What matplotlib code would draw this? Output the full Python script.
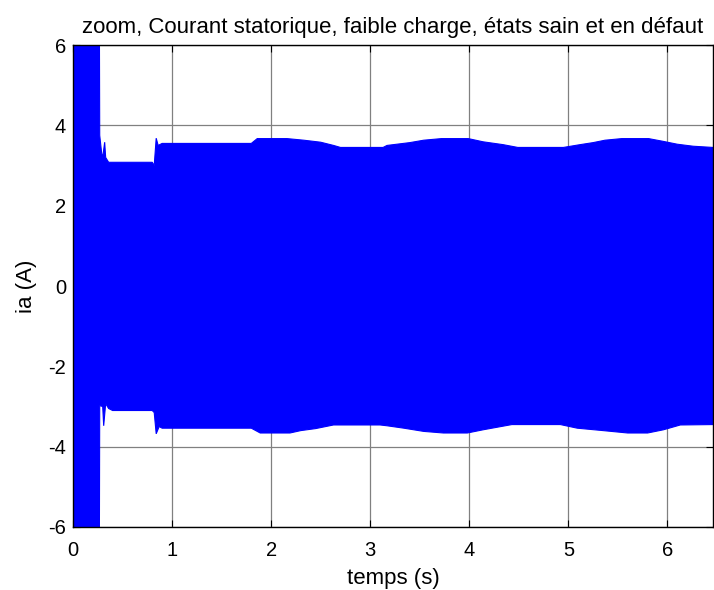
import numpy as np
import matplotlib
matplotlib.use("Agg")
import matplotlib.pyplot as plt

plt.rcParams['font.family'] = ['Liberation Sans', 'DejaVu Sans']
plt.rcParams['axes.unicode_minus'] = False

# upper envelope of the stator current
t_top = [0, 0.265, 0.27, 0.29, 0.30, 0.32, 0.33, 0.36, 0.80, 0.82, 0.84, 0.86, 0.90,
         1.80, 1.86, 2.16, 2.33, 2.50, 2.63, 2.70,
         3.13, 3.17, 3.40, 3.54, 3.72, 3.99,
         4.14, 4.34, 4.49, 4.95,
         5.12, 5.25, 5.37, 5.54, 5.81, 5.96,
         6.10, 6.26, 6.46]
ia_top = [8, 8, 3.75, 3.3, 3.2, 3.58, 3.2, 3.08, 3.08, 3.0, 3.68, 3.5, 3.55,
          3.55, 3.67, 3.67, 3.63, 3.58, 3.5, 3.45,
          3.45, 3.5, 3.57, 3.63, 3.67, 3.67,
          3.59, 3.52, 3.45, 3.45,
          3.52, 3.57, 3.63, 3.67, 3.67, 3.6,
          3.53, 3.48, 3.45]

# lower envelope
t_bot = [0, 0.265, 0.27, 0.30, 0.31, 0.33, 0.36, 0.40, 0.80, 0.82, 0.84, 0.87, 0.90,
         1.80, 1.89, 2.19, 2.30, 2.45, 2.63,
         3.10, 3.17, 3.34, 3.54, 3.74, 3.98,
         4.14, 4.43, 4.92,
         5.09, 5.35, 5.60, 5.80, 5.96,
         6.13, 6.46]
ia_bot = [-8, -8, -2.98, -3.0, -3.48, -2.93, -3.05, -3.1, -3.1, -3.15, -3.68, -3.5, -3.54,
          -3.54, -3.66, -3.66, -3.6, -3.55, -3.46,
          -3.46, -3.48, -3.54, -3.62, -3.66, -3.66,
          -3.58, -3.45, -3.45,
          -3.54, -3.6, -3.66, -3.66, -3.58,
          -3.46, -3.45]

xticks = [0, 1, 2, 3, 4, 5, 6]
yticks = [-6, -4, -2, 0, 2, 4, 6]

fig = plt.figure(figsize=(7.14, 5.90), dpi=100)
ax = fig.add_axes([0.1022, 0.1068, 0.8964, 0.8169])

# the signal is so dense it renders as a solid band
xs = np.concatenate([t_top, t_bot[::-1]])
ys = np.concatenate([ia_top, ia_bot[::-1]])
ax.fill(xs, ys, color='#0000ff', lw=0.8, ec='#0000ff', zorder=3)

ax.set_xlim(0, 6.46)
ax.set_ylim(-6, 6)
ax.set_xticks(xticks)
ax.set_yticks(yticks)
ax.grid(True, color='#808080', lw=0.9, ls='-')
ax.set_axisbelow(True)
ax.tick_params(direction='in', top=True, right=True, length=5, labelsize=14.5)
ax.tick_params(axis='x', pad=10)
ax.tick_params(axis='y', pad=5)
for s in ax.spines.values():
    s.set_linewidth(1.0)
    s.set_zorder(4)

ax.set_title('zoom, Courant statorique, faible charge, états sain et en défaut', fontsize=16, pad=9)
ax.set_xlabel('temps (s)', fontsize=16, labelpad=6)
ax.set_ylabel('ia (A)', fontsize=16, labelpad=8)

fig.savefig('out.png', dpi=100)
